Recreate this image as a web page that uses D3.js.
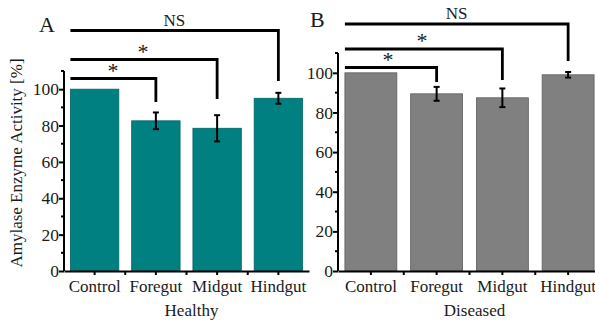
<!DOCTYPE html>
<html>
    <head>
        <meta charset="utf-8">
        <title>Amylase activity</title>
        <style>
body {
    margin: 0;
    background-color: white;
    font-family: 'Liberation Serif', 'DejaVu Serif', serif;
}

svg text {
    fill: #1a1a1a;
}

.bar-a {
    fill: #008080;
    stroke: #006666;
    stroke-width: 0.8;
}

.bar-b {
    fill: #808080;
    stroke: #5e5e5e;
    stroke-width: 0.8;
}

.axis path, .axis line {
    stroke: black;
    stroke-width: 2;
}

.bracket {
    fill: none;
    stroke: black;
    stroke-width: 2.8;
}

.err {
    stroke: black;
    stroke-width: 2;
}
</style>
        <script src="https://cdn.jsdelivr.net/npm/d3@7"></script>
    </head>
    <body>
        <script>
var width = 595,
    height = 321;

var categories = ["Control", "Foregut", "Midgut", "Hindgut"];
var healthyValues = [100, 82.6, 78.5, 95.0];
var healthyErrors = [0, 4.6, 7.2, 3.0];
var diseasedValues = [100, 89.4, 87.4, 99.0];
var diseasedErrors = [0, 3.5, 4.7, 1.4];
var yTicks = [0, 20, 40, 60, 80, 100];
var minorTicks = [10, 30, 50, 70, 90, 110];
var brackets = [
    { to: "Foregut", label: "*" },
    { to: "Midgut", label: "*" },
    { to: "Hindgut", label: "NS" }
];

var svg = d3.select('body')
    .append('svg')
    .attr('width', width)
    .attr('height', height);

// one panel: letter, axes, bars, error bars, significance brackets
var drawPanel = function (opt) {
    var g = svg.append('g');

    var x = d3.scaleBand()
        .domain(categories)
        .range([opt.left, opt.right])
        .paddingInner(0.21)
        .paddingOuter(0.105);

    var y = d3.scaleLinear()
        .domain([0, 110])
        .range([opt.bottom, opt.top]);

    // bars
    g.selectAll('rect.bar')
        .data(opt.values)
        .enter()
        .append('rect')
        .attr('class', opt.barClass)
        .attr('x', function (d, i) { return x(categories[i]); })
        .attr('width', x.bandwidth())
        .attr('y', function (d) { return y(d); })
        .attr('height', function (d) { return opt.bottom - y(d); });

    // error bars
    var capW = 3;
    opt.values.forEach(function (v, i) {
        var e = opt.errors[i];
        if (!e) return;
        var cx = x(categories[i]) + x.bandwidth() / 2;
        g.append('line').attr('class', 'err')
            .attr('x1', cx).attr('x2', cx)
            .attr('y1', y(v + e)).attr('y2', y(v - e));
        [v + e, v - e].forEach(function (t) {
            g.append('line').attr('class', 'err')
                .attr('x1', cx - capW).attr('x2', cx + capW)
                .attr('y1', y(t)).attr('y2', y(t));
        });
    });

    // y axis
    var yAxis = g.append('g')
        .attr('class', 'axis')
        .attr('transform', 'translate(' + opt.left + ',0)')
        .call(d3.axisLeft(y).tickValues(yTicks).tickSize(5).tickSizeOuter(0));
    yAxis.selectAll('text')
        .style('font-family', "'Liberation Serif', serif")
        .style('font-size', '17.5px')
        .attr('x', -5)
        .attr('fill', '#1a1a1a');
    yAxis.select('.domain').attr('d', 'M0,' + y(110) + 'V' + opt.bottom);
    yAxis.selectAll('.minor')
        .data(minorTicks)
        .enter()
        .append('line')
        .attr('class', 'minor')
        .attr('x1', -3).attr('x2', 0)
        .attr('y1', function (d) { return y(d); })
        .attr('y2', function (d) { return y(d); });

    // x axis
    var xAxis = g.append('g')
        .attr('class', 'axis')
        .attr('transform', 'translate(0,' + opt.bottom + ')')
        .call(d3.axisBottom(x).tickSize(4).tickSizeOuter(0));
    xAxis.selectAll('text')
        .style('font-family', "'Liberation Serif', serif")
        .style('font-size', '17px')
        .attr('y', 9)
        .attr('fill', '#1a1a1a');
    var step = x.step();
    xAxis.selectAll('.minor')
        .data(d3.range(1, categories.length))
        .enter()
        .append('line')
        .attr('class', 'minor')
        .attr('x1', function (d) { return opt.left + d * step; })
        .attr('x2', function (d) { return opt.left + d * step; })
        .attr('y1', 0).attr('y2', 4);

    // x title
    g.append('text')
        .attr('x', (opt.left + opt.right) / 2 + 5)
        .attr('y', 316)
        .attr('text-anchor', 'middle')
        .style('font-size', '17px')
        .text(opt.title);

    // panel letter
    g.append('text')
        .attr('x', opt.letterX)
        .attr('y', opt.letterY)
        .style('font-size', '22px')
        .text(opt.letter);

    // significance brackets
    var startX = x(categories[0]);
    brackets.forEach(function (b, i) {
        var endX = x(b.to) + x.bandwidth() / 2;
        var ly = opt.bracketY[i];
        var dropY = opt.dropY[i];
        g.append('path')
            .attr('class', 'bracket')
            .attr('d', 'M' + startX + ',' + ly + 'H' + endX + 'V' + dropY);
        var isStar = b.label === '*';
        g.append('text')
            .attr('x', isStar ? opt.starX[i] : (startX + endX) / 2)
            .attr('y', isStar ? ly - 1 : ly - 5)
            .attr('text-anchor', 'middle')
            .style('font-size', isStar ? '22px' : '17px')
            .text(b.label);
    });
};

drawPanel({
    left: 64, right: 309, top: 71, bottom: 271,
    values: healthyValues, errors: healthyErrors,
    barClass: 'bar-a', title: 'Healthy',
    letter: 'A', letterX: 39, letterY: 32,
    bracketY: [78.5, 59.5, 30.5],
    dropY: [102, 99, 81],
    starX: [113, 143]
});

drawPanel({
    left: 338, right: 601, top: 53, bottom: 271,
    values: diseasedValues, errors: diseasedErrors,
    barClass: 'bar-b', title: 'Diseased',
    letter: 'B', letterX: 310, letterY: 27,
    bracketY: [67.5, 49, 24],
    dropY: [82, 80, 61],
    starX: [388, 422]
});

// shared y title
svg.append('text')
    .attr('transform', 'translate(22,163) rotate(-90)')
    .attr('text-anchor', 'middle')
    .style('font-size', '17px')
    .text('Amylase Enzyme Activity [%]');
        </script>
    </body>
</html>
